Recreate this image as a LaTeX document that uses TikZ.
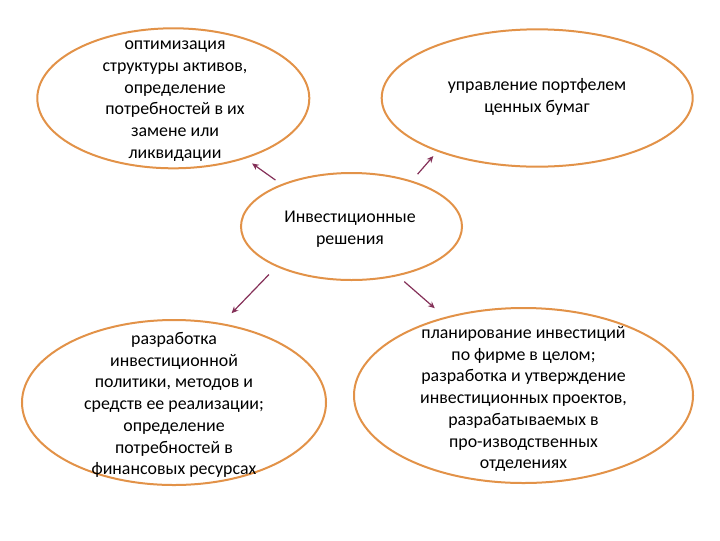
\documentclass[tikz,border=0pt]{standalone}
\usepackage{fontspec}
\setmainfont{Carlito}
\usepackage{tikz}
\usetikzlibrary{arrows.meta, positioning, shapes.geometric}

\definecolor{ringorange}{RGB}{226,146,72}
\definecolor{arrowplum}{RGB}{132,48,88}

\begin{document}
\begin{tikzpicture}[x=0.75pt,y=0.75pt,yscale=-1,xscale=1,
  bubble/.style={ellipse, draw=ringorange, line width=1.5pt, inner sep=0pt, outer sep=0pt},
  caption/.style={align=center, inner sep=0.75pt, font=\fontsize{13.4}{16.3}\selectfont},
  pointer/.style={draw=arrowplum, line width=0.9pt, -{Stealth[length=5pt,width=4.5pt]}}]
%set diagram left start at 0, and has height of 540
\path[use as bounding box] (0,0) rectangle (720,540);

%Shape: Ellipse [opt]
\node[bubble, minimum width=204pt, minimum height=105pt] (opt) at (173.3,98.3) {};
%Shape: Ellipse [port]
\node[bubble, minimum width=233.25pt, minimum height=103pt] (port) at (537.2,98) {};
%Shape: Ellipse [dec]
\node[bubble, minimum width=165.75pt, minimum height=80.25pt] (dec) at (351.5,226.5) {};
%Shape: Ellipse [pol]
\node[bubble, minimum width=228pt, minimum height=123.75pt] (pol) at (174,402.5) {};
%Shape: Ellipse [plan]
\node[bubble, minimum width=254.25pt, minimum height=131.25pt] (plan) at (523.5,395.5) {};

%Straight Lines
\draw[pointer, shorten <=6.2pt, shorten >=7.1pt] (dec.149.4) -- (opt.320.8);
%Straight Lines
\draw[pointer, shorten <=7.3pt, shorten >=5.2pt] (dec.37.8) -- (port.208.1);
%Straight Lines
\draw[pointer, shorten <=8.9pt, shorten >=11.3pt] (dec.208.9) -- (pol.59.9);
%Straight Lines
\draw[pointer, shorten <=7.3pt, shorten >=10.9pt] (dec.313.7) -- (plan.135.8);

% Text Node
\node[caption] (optText) at (175,101) {оптимизация\\структуры активов,\\определение\\потребностей в их\\замене или\\ликвидации};
% Text Node
\node[caption] (portText) at (537,97) {управление портфелем\\ценных бумаг};
% Text Node
\node[caption] (decText) at (350,229) {Инвестиционные\\решения};
% Text Node
\node[caption] (polText) at (174,405) {разработка\\инвестиционной\\политики, методов и\\средств ее реализации;\\определение\\потребностей в\\финансовых ресурсах};
% Text Node
\node[caption] (planText) at (523.5,399) {планирование инвестиций\\по фирме в целом;\\разработка и утверждение\\инвестиционных проектов,\\разрабатываемых в\\про-изводственных\\отделениях};

\end{tikzpicture}
\end{document}
